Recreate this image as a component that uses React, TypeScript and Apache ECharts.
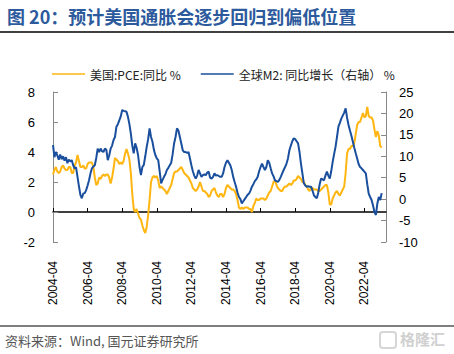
import React, { useEffect, useRef } from "react";
import * as echarts from "echarts";

// Monthly categories 2004-04 .. 2023-07
const startYear = 2004;
const startMonth = 4;
const monthCount = 232;
const categories: string[] = [];
for (let i = 0; i < monthCount; i++) {
  const m = startMonth - 1 + i;
  const y = startYear + Math.floor(m / 12);
  const mm = (m % 12) + 1;
  categories.push(`${y}-${mm < 10 ? "0" + mm : mm}`);
}

// 美国:PCE:同比 % (left axis), 2004-04 .. 2023-04
const pce: number[] = [
  // 2004 Apr-Dec
  2.5, 2.8, 3.0, 2.7, 2.6, 2.7, 3.0, 3.1, 2.9,
  // 2005
  2.8, 2.8, 3.0, 3.0, 2.6, 2.6, 3.1, 3.3, 3.8, 3.4, 3.0, 3.0,
  // 2006
  3.1, 2.9, 2.9, 3.2, 3.3, 3.3, 3.3, 3.0, 2.3, 1.8, 1.9, 2.3,
  // 2007
  2.2, 2.4, 2.5, 2.4, 2.5, 2.5, 2.3, 1.9, 2.3, 2.9, 3.6, 3.5,
  // 2008
  3.4, 3.2, 3.3, 3.2, 3.4, 3.9, 4.2, 3.9, 3.5, 2.6, 1.2, 0.2,
  // 2009
  0.0, 0.2, -0.1, -0.4, -0.5, -0.9, -1.2, -1.4, -1.0, -0.2, 0.8, 2.0,
  // 2010
  2.3, 2.4, 2.3, 2.4, 2.1, 1.6, 1.7, 1.6, 1.5, 1.4, 1.2, 1.4,
  // 2011
  1.6, 1.8, 2.2, 2.6, 2.7, 2.7, 2.8, 2.9, 3.0, 2.8, 2.6, 2.5,
  // 2012
  2.4, 2.3, 2.1, 1.9, 1.6, 1.5, 1.4, 1.5, 1.7, 2.0, 1.7, 1.4,
  // 2013
  1.4, 1.3, 1.2, 1.0, 1.1, 1.4, 1.5, 1.6, 1.3, 1.1, 1.0, 1.2,
  // 2014
  1.2, 1.0, 1.2, 1.6, 1.8, 1.7, 1.6, 1.5, 1.5, 1.4, 1.2, 0.8,
  // 2015
  0.3, 0.2, 0.3, 0.2, 0.3, 0.3, 0.3, 0.2, 0.2, 0.0, 0.4, 0.6,
  // 2016
  0.9, 0.8, 0.8, 0.9, 0.9, 0.9, 0.8, 0.9, 1.1, 1.3, 1.4, 1.7,
  // 2017
  2.0, 2.1, 1.8, 1.6, 1.5, 1.4, 1.4, 1.6, 1.7, 1.7, 1.8, 1.9,
  // 2018
  1.8, 1.9, 2.1, 2.1, 2.2, 2.4, 2.3, 2.2, 2.0, 2.0, 1.8, 1.7,
  // 2019
  1.5, 1.4, 1.6, 1.6, 1.5, 1.5, 1.5, 1.4, 1.4, 1.5, 1.6, 1.7,
  // 2020
  1.8, 1.8, 1.3, 0.5, 0.5, 0.9, 1.1, 1.3, 1.4, 1.2, 1.1, 1.3,
  // 2021
  1.5, 1.7, 2.6, 3.9, 4.2, 4.2, 4.4, 4.4, 4.6, 5.2, 5.8, 6.0,
  // 2022
  6.0, 6.3, 6.6, 6.3, 6.4, 7.0, 6.4, 6.3, 6.3, 6.1, 5.5, 5.0,
  // 2023 Jan-Apr
  5.4, 5.1, 4.4, 4.3,
];

// 全球M2: 同比增长（右轴） % (right axis), 2004-04 .. 2023-04
const m2: number[] = [
  // 2004 Apr-Dec
  12.6, 9.8, 11.0, 10.2, 9.2, 10.4, 9.3, 10.0, 9.0,
  // 2005
  9.8, 8.4, 9.2, 8.8, 9.1, 7.9, 7.2, 7.4, 5.2, 3.0, 1.0, 0.2,
  // 2006
  1.3, 1.4, 2.1, 3.2, 4.4, 6.0, 7.2, 7.6, 7.9, 9.6, 11.8, 11.0,
  // 2007
  11.8, 11.2, 11.0, 11.8, 11.5, 9.1, 10.2, 11.8, 12.5, 13.8, 14.5, 16.9,
  // 2008
  17.5, 18.4, 19.3, 20.8, 20.6, 20.5, 20.4, 19.2, 17.5, 15.3, 12.5, 10.7,
  // 2009
  13.0, 12.0, 10.3, 7.5, 5.6, 7.5, 8.0, 10.0, 12.2, 14.0, 16.5, 14.5,
  // 2010
  13.4, 11.5, 10.3, 9.5, 9.1, 6.5, 3.7, 4.5, 5.2, 5.8, 6.8, 7.3,
  // 2011
  7.9, 8.5, 10.5, 13.0, 14.5, 16.5, 16.0, 14.5, 13.0, 11.4, 11.0, 11.0,
  // 2012
  10.8, 11.0, 9.5, 7.9, 6.5, 5.5, 4.8, 5.5, 6.8, 6.0, 5.2, 5.6,
  // 2013
  5.8, 5.6, 6.2, 6.4, 5.0, 4.8, 5.2, 6.0, 5.5, 5.6, 5.4, 5.2,
  // 2014
  5.2, 6.0, 7.5, 8.5, 9.1, 8.5, 7.9, 6.8, 5.2, 4.0, 2.9, 1.5,
  // 2015
  0.5, 0.0, -1.0, -0.5, 0.0, 0.5, 1.0, 1.3, 2.0, 2.9, 3.5, 4.2,
  // 2016
  4.6, 5.2, 6.5, 7.5, 8.3, 7.5, 6.8, 7.5, 9.1, 8.5, 7.2, 6.0,
  // 2017
  5.3, 4.4, 4.2, 4.0, 4.5, 5.2, 6.0, 6.8, 7.5, 8.3, 9.5, 11.4,
  // 2018
  12.5, 13.5, 14.2, 14.0, 13.5, 13.0, 11.0, 8.3, 6.0, 3.7, 3.2, 2.9,
  // 2019
  3.0, 2.9, 2.9, 2.0, 0.9, 0.5, 0.2, 1.5, 3.5, 4.8, 4.6, 4.4,
  // 2020
  5.5, 6.4, 5.5, 4.8, 6.5, 8.7, 10.5, 12.2, 14.5, 16.9, 17.8, 18.8,
  // 2021
  19.5, 20.2, 21.2, 19.0, 17.3, 16.0, 14.8, 13.4, 12.0, 10.7, 9.5, 8.2,
  // 2022
  7.5, 7.2, 6.8, 6.4, 6.0, 3.5, 1.3, 0.5, -0.2, -1.5, -3.0, -3.7,
  // 2023 Jan-Apr
  -1.0, 0.5, -0.2, 1.4,
];

const leftTicks = { min: -2, max: 8, interval: 2 };
const rightTicks = { min: -10, max: 25, interval: 5 };

const TITLE = "图 20：预计美国通胀会逐步回归到偏低位置";
const SOURCE = "资料来源：Wind, 国元证券研究所";
const NAME_PCE = "美国:PCE:同比 %";
const NAME_M2 = "全球M2: 同比增长（右轴） %";

const YELLOW = "#FFB612";
const BLUE = "#1A4F9E";

export default function App() {
  const ref = useRef<HTMLDivElement>(null);
  useEffect(() => {
    if (!ref.current) return;
    const chart = echarts.init(ref.current, undefined, { renderer: "svg" });
    const every24 = (idx: number) => idx % 24 === 0;
    chart.setOption({
      animation: false,
      backgroundColor: "#ffffff",
      textStyle: { fontFamily: "Liberation Sans" },
      grid: { left: 53, right: 68, top: 92, bottom: 112, containLabel: false },
      legend: {
        left: 47,
        top: 63,
        itemWidth: 33,
        itemHeight: 1.5,
        itemGap: 20,
        data: [
          { name: NAME_PCE, icon: "rect" },
          { name: NAME_M2, icon: "rect" },
        ],
        textStyle: {
          fontFamily: "Noto Sans CJK SC",
          fontSize: 12,
          color: "#222",
        },
      },
      xAxis: [
        {
          type: "category",
          data: categories,
          boundaryGap: false,
          position: "bottom",
          axisLine: { show: false, onZero: false },
          axisTick: { show: false },
          splitLine: { show: false },
          axisLabel: {
            interval: every24,
            rotate: 90,
            margin: 19,
            fontSize: 12,
            color: "#000",
            fontFamily: "Liberation Sans",
          },
        },
        {
          type: "category",
          data: categories,
          boundaryGap: false,
          position: "bottom",
          axisLine: {
            show: true,
            onZero: true,
            onZeroAxisIndex: 0,
            lineStyle: { color: "#000", width: 1.5 },
          },
          axisTick: {
            show: true,
            inside: true,
            length: 4,
            interval: every24,
            lineStyle: { color: "#000", width: 1 },
          },
          axisLabel: { show: false },
          splitLine: { show: false },
        },
      ],
      yAxis: [
        {
          type: "value",
          position: "left",
          min: leftTicks.min,
          max: leftTicks.max,
          interval: leftTicks.interval,
          splitLine: { show: false },
          axisLine: { show: true, lineStyle: { color: "#888", width: 1 } },
          axisTick: { show: true, inside: true, length: 5, lineStyle: { color: "#888" } },
          axisLabel: { margin: 18, fontSize: 13, color: "#000", fontFamily: "Liberation Sans" },
        },
        {
          type: "value",
          position: "right",
          min: rightTicks.min,
          max: rightTicks.max,
          interval: rightTicks.interval,
          splitLine: { show: false },
          axisLine: { show: true, lineStyle: { color: "#888", width: 1 } },
          axisTick: { show: true, inside: true, length: 5, lineStyle: { color: "#888" } },
          axisLabel: { margin: 13, fontSize: 13, color: "#000", fontFamily: "Liberation Sans" },
        },
      ],
      series: [
        {
          name: NAME_PCE,
          type: "line",
          xAxisIndex: 0,
          yAxisIndex: 0,
          data: pce,
          symbol: "none",
          lineStyle: { color: YELLOW, width: 2 },
          itemStyle: { color: YELLOW },
        },
        {
          name: NAME_M2,
          type: "line",
          xAxisIndex: 0,
          yAxisIndex: 1,
          data: m2,
          symbol: "none",
          lineStyle: { color: BLUE, width: 2 },
          itemStyle: { color: BLUE },
        },
      ],
      graphic: [
        {
          type: "text",
          left: 7,
          top: 7,
          style: {
            text: TITLE,
            fill: "#2C5A9C",
            fontSize: 18,
            fontWeight: "bold",
            fontFamily: "Noto Sans CJK SC",
          },
        },
        {
          type: "line",
          shape: { x1: 0, y1: 32, x2: 454, y2: 32 },
          style: { stroke: "#000", lineWidth: 1.5 },
        },
        {
          type: "line",
          shape: { x1: 0, y1: 326, x2: 454, y2: 326 },
          style: { stroke: "#000", lineWidth: 1 },
        },
        {
          type: "text",
          left: 5,
          top: 334,
          style: {
            text: SOURCE,
            fill: "#555",
            fontSize: 13,
            fontFamily: "Noto Sans CJK SC",
          },
        },
        {
          type: "rect",
          shape: { x: 380, y: 332, width: 16, height: 16, r: 3 },
          style: { stroke: "#d6d6d6", fill: "none", lineWidth: 2 },
        },
        {
          type: "text",
          left: 400,
          top: 331,
          style: {
            text: "格隆汇",
            fill: "#d0d0d0",
            fontSize: 15,
            fontWeight: "bold",
            fontFamily: "Noto Sans CJK SC",
          },
        },
      ],
    });
    return () => chart.dispose();
  }, []);
  return (
    <div
      ref={ref}
      style={{ position: "fixed", left: 0, top: 0, width: 454, height: 354 }}
    />
  );
}
